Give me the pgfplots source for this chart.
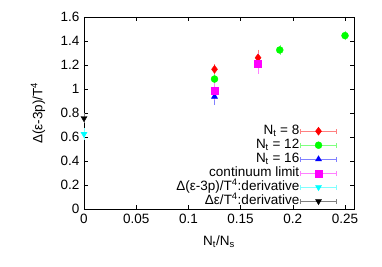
\documentclass[border=0pt]{standalone}
\usepackage{fontspec}
\setmainfont{Liberation Sans}
\usepackage{pgfplots}
\pgfplotsset{compat=1.18}
\definecolor{gred}{rgb}{1,0,0}
\definecolor{ggreen}{rgb}{0,1,0}
\definecolor{gblue}{rgb}{0,0,1}
\definecolor{gmag}{rgb}{1,0,1}
\definecolor{gcyan}{rgb}{0,1,1}
\definecolor{gblack}{rgb}{0,0,0}
\pgfplotsset{errleg/.style={legend image code/.code={%
  \draw[#1!50,line width=0.5pt] (0bp,0bp)--(36bp,0bp) (0bp,-2.5bp)--(0bp,2.5bp) (36bp,-2.5bp)--(36bp,2.5bp);
  \draw[##1,only marks] plot coordinates {(18bp,0bp)};}},
  eb/.style={error bars/y dir=both, error bars/y explicit, error bars/error bar style={color=#1!50, line width=0.5pt}, error bars/error mark options={color=#1!50, mark size=2.5bp, line width=0.5pt}}}
\begin{document}
\fontsize{13.5bp}{16bp}\selectfont
\begin{tikzpicture}
\path[use as bounding box] (-84bp,-58bp) rectangle (298bp,209bp);
\begin{axis}[at={(0,0)}, anchor=south west, scale only axis, width=270bp, height=192bp,
  xmin=0, xmax=0.2586, ymin=0, ymax=1.6,
  xtick={0,0.05,0.1,0.15,0.2,0.25}, ytick={0,0.2,0.4,0.6,0.8,1,1.2,1.4,1.6},
  scaled x ticks=false, scaled y ticks=false,
  xticklabel style={/pgf/number format/fixed, /pgf/number format/precision=2},
  yticklabel style={/pgf/number format/fixed, /pgf/number format/precision=1},
  /pgf/number format/assume math mode=true,
  tick align=inside, major tick length=4bp, tick style={black, line width=0.5pt},
  axis line style={black, line width=0.6pt},
  xlabel={N\textsubscript{t}/N\textsubscript{s}},
  ylabel={Δ(ε-3p)/T\textsuperscript{4}},
  xlabel style={at={(0.5,0)}, anchor=north, yshift=-22bp},
  ylabel style={at={(0,0.5)}, anchor=south, yshift=34bp},
  legend plot pos=right, legend cell align=right,
  legend style={at={(0.948,0.453)}, anchor=north east, draw=none, fill=none,
    nodes={inner sep=1bp, text height=9.5bp, text depth=2.5bp}, row sep=0bp},
]
\addplot[only marks, mark=diamond*, mark size=4bp, color=gred, errleg=gred, eb=gred] table[x=x,y=y,y error=e] {
x y e
0.125 1.164 0.02
0.1667 1.26 0.045
};
\addlegendentry{N\textsubscript{t} = 8}
\addplot[only marks, mark=*, mark size=3.5bp, color=ggreen, errleg=ggreen, eb=ggreen] table[x=x,y=y,y error=e] {
x y e
0.125 1.083 0.02
0.1875 1.325 0.02
0.25 1.445 0.02
};
\addlegendentry{N\textsubscript{t} = 12}
\addplot[only marks, mark=triangle*, mark size=3.5bp, color=gblue, errleg=gblue, eb=gblue] table[x=x,y=y,y error=e] {
x y e
0.125 0.937 0.047
};
\addlegendentry{N\textsubscript{t} = 16}
\addplot[only marks, mark=square*, mark size=3.5bp, color=gmag, errleg=gmag, eb=gmag] table[x=x,y=y,y error=e] {
x y e
0.125 0.986 0.06
0.1667 1.21 0.065
};
\addlegendentry{continuum limit}
\addplot[only marks, mark=triangle*, mark options={rotate=180}, mark size=3.5bp, color=gcyan, errleg=gcyan, eb=gcyan] table[x=x,y=y,y error=e] {
x y e
0 0.625 0.03
};
\addlegendentry{Δ(ε-3p)/T\textsuperscript{4}:derivative}
\addplot[only marks, mark=triangle*, mark options={rotate=180}, mark size=3.5bp, color=gblack, errleg=gblack, eb=gblack] table[x=x,y=y,y error=e] {
x y e
0 0.756 0.02
};
\addlegendentry{Δε/T\textsuperscript{4}:derivative}
\end{axis}
\end{tikzpicture}
\end{document}
